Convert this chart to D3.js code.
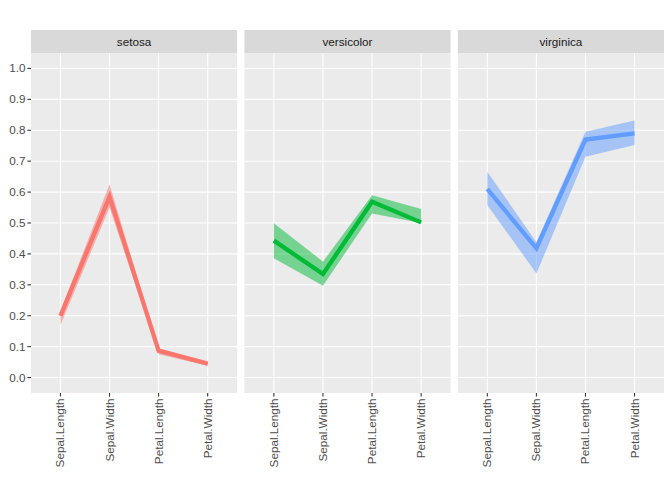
<!DOCTYPE html>
<html>
<head>
<meta charset="utf-8">
<script src="https://cdn.jsdelivr.net/npm/d3@7"></script>
<style>
  body { margin: 0; background: #fff; }
  text { font-family: "Liberation Sans", Arial, sans-serif; }
</style>
</head>
<body>
<div id="chart"></div>
<script>
var species = ["setosa", "versicolor", "virginica"];
var variables = ["Sepal.Length", "Sepal.Width", "Petal.Length", "Petal.Width"];
var yTicks = [0.0, 0.1, 0.2, 0.3, 0.4, 0.5, 0.6, 0.7, 0.8, 0.9, 1.0];

// centre line per species, in variable order
var centre = [
    [0.200, 0.585, 0.087, 0.045],
    [0.443, 0.335, 0.569, 0.502],
    [0.610, 0.418, 0.770, 0.790]
];
// ribbon lower / upper bounds
var lower = [
    [0.170, 0.550, 0.075, 0.038],
    [0.386, 0.297, 0.531, 0.500],
    [0.558, 0.337, 0.714, 0.752]
];
var upper = [
    [0.215, 0.625, 0.095, 0.050],
    [0.499, 0.375, 0.590, 0.545],
    [0.666, 0.438, 0.795, 0.832]
];
var colours = ["#F8766D", "#00BA38", "#619CFF"];

var width = 672, height = 480;
var margin = { top: 30, left: 31, right: 8 },
    stripH = 23,
    spacing = 7.3,
    panelH = 340;
var panelW = (width - margin.left - margin.right - 2 * spacing) / 3;

var svg = d3.select("#chart").append("svg")
    .attr("width", width)
    .attr("height", height);

var x = d3.scalePoint().domain(variables)
    .range([0, panelW]).padding(0.6);
var y = d3.scaleLinear().domain([-0.05, 1.05]).range([panelH, 0]);

species.forEach(function (sp, i) {
    var g = svg.append("g")
        .attr("transform", "translate(" + (margin.left + i * (panelW + spacing)) + "," + margin.top + ")");

    // strip
    g.append("rect")
        .attr("width", panelW).attr("height", stripH)
        .attr("fill", "#D9D9D9");
    g.append("text")
        .attr("x", panelW / 2).attr("y", stripH / 2 + 4)
        .attr("text-anchor", "middle")
        .attr("font-size", "11.7px")
        .attr("fill", "#1A1A1A")
        .text(sp);

    var p = g.append("g").attr("transform", "translate(0," + stripH + ")");
    p.append("rect")
        .attr("width", panelW).attr("height", panelH)
        .attr("fill", "#EBEBEB");

    // grid
    p.selectAll(".hg").data(yTicks).enter().append("line")
        .attr("x1", 0).attr("x2", panelW)
        .attr("y1", function (d) { return y(d); })
        .attr("y2", function (d) { return y(d); })
        .attr("stroke", "#fff").attr("stroke-width", 1.07);
    p.selectAll(".vg").data(variables).enter().append("line")
        .attr("y1", 0).attr("y2", panelH)
        .attr("x1", function (d) { return x(d); })
        .attr("x2", function (d) { return x(d); })
        .attr("stroke", "#fff").attr("stroke-width", 1.07);

    var rows = variables.map(function (v, j) {
        return { v: v, c: centre[i][j], lo: lower[i][j], hi: upper[i][j] };
    });

    var area = d3.area()
        .x(function (d) { return x(d.v); })
        .y0(function (d) { return y(d.lo); })
        .y1(function (d) { return y(d.hi); });
    var line = d3.line()
        .x(function (d) { return x(d.v); })
        .y(function (d) { return y(d.c); });

    p.append("path").datum(rows)
        .attr("d", area)
        .attr("fill", colours[i])
        .attr("fill-opacity", 0.5);
    p.append("path").datum(rows)
        .attr("d", line)
        .attr("fill", "none")
        .attr("stroke", colours[i])
        .attr("stroke-width", 4.3);

    // x axis
    var xa = p.append("g").attr("transform", "translate(0," + panelH + ")");
    xa.selectAll("line").data(variables).enter().append("line")
        .attr("x1", function (d) { return x(d); })
        .attr("x2", function (d) { return x(d); })
        .attr("y1", 0).attr("y2", 3.6)
        .attr("stroke", "#333").attr("stroke-width", 1.07);
    xa.selectAll("text").data(variables).enter().append("text")
        .attr("transform", function (d) {
            return "translate(" + (x(d) + 4) + "," + 5.5 + ") rotate(-90)";
        })
        .attr("text-anchor", "end")
        .attr("font-size", "11.7px")
        .attr("fill", "#4D4D4D")
        .text(function (d) { return d; });

    // y axis on first panel
    if (i === 0) {
        var ya = p.append("g");
        ya.selectAll("line").data(yTicks).enter().append("line")
            .attr("x1", -3.6).attr("x2", 0)
            .attr("y1", function (d) { return y(d); })
            .attr("y2", function (d) { return y(d); })
            .attr("stroke", "#333").attr("stroke-width", 1.07);
        ya.selectAll("text").data(yTicks).enter().append("text")
            .attr("x", -5.5)
            .attr("y", function (d) { return y(d) + 4; })
            .attr("text-anchor", "end")
            .attr("font-size", "11.7px")
            .attr("fill", "#4D4D4D")
            .text(function (d) { return d3.format(".1f")(d); });
    }
});
</script>
</body>
</html>
